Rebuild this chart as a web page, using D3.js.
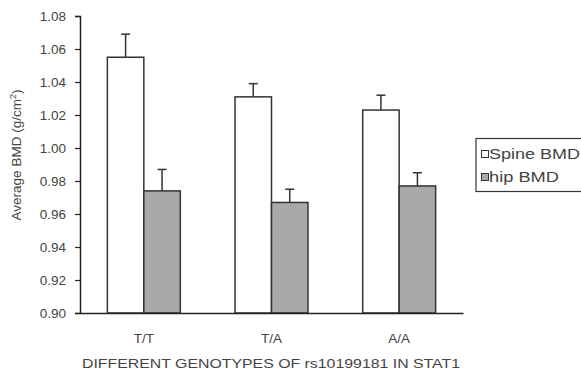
<!DOCTYPE html>
<html><head><meta charset="utf-8">
<script src="https://cdn.jsdelivr.net/npm/d3@7"></script>
<style>body{margin:0;background:#fff}svg{display:block}text{font-family:"Liberation Sans",Arial,sans-serif;fill:#333}</style>
</head><body><svg id="c" width="581" height="372"></svg>
<script>
const categories = ["T/T", "T/A", "A/A"];
const seriesNames = ["Spine BMD", "hip BMD"];
const spineBMD = [1.055, 1.031, 1.023];
const spineErr = [0.014, 0.008, 0.009];
const hipBMD = [0.974, 0.967, 0.977];
const hipErr = [0.013, 0.008, 0.008];
const yTicks = [0.90, 0.92, 0.94, 0.96, 0.98, 1.00, 1.02, 1.04, 1.06, 1.08];

const svg = d3.select("#c");
const L = 80, R = 463, T = 16, B = 313;
const FF = "Liberation Sans, Arial, sans-serif";
const x = d3.scaleBand().domain(categories).range([L, R]).paddingInner(0).paddingOuter(0);
const x1 = d3.scaleBand().domain(seriesNames).range([0, x.bandwidth()]).paddingInner(0).paddingOuter(0.75);
const y = d3.scaleLinear().domain([0.90, 1.08]).range([B, T]);
const fills = {"Spine BMD": "#ffffff", "hip BMD": "#a9a9a9"};

const data = categories.map((c, i) => ({c, vals: [
  {s: "Spine BMD", v: spineBMD[i], e: spineErr[i]},
  {s: "hip BMD", v: hipBMD[i], e: hipErr[i]}]}));

// y axis
const ya = d3.axisLeft(y).tickValues(yTicks).tickFormat(d3.format(".2f")).tickSize(5).tickPadding(9);
const gy = svg.append("g").attr("transform", `translate(${L},0)`).call(ya);
gy.select(".domain").attr("stroke", "#222").attr("stroke-width", 1.5);
gy.selectAll(".tick line").attr("stroke", "#222").attr("stroke-width", 1.2);
gy.selectAll(".tick text").attr("font-size", 13.5).style("fill", "#444").attr("font-family", FF);

const g = svg.append("g");
data.forEach(d => {
  d.vals.forEach(p => {
    const bx = x(d.c) + x1(p.s), bw = x1.bandwidth();
    const cx = bx + bw / 2;
    g.append("line").attr("x1", cx).attr("x2", cx).attr("y1", y(p.v)).attr("y2", y(p.v + p.e)).attr("stroke", "#333").attr("stroke-width", 1.5);
    g.append("line").attr("x1", cx - 4.5).attr("x2", cx + 4.5).attr("y1", y(p.v + p.e)).attr("y2", y(p.v + p.e)).attr("stroke", "#333").attr("stroke-width", 1.5);
    g.append("rect").attr("x", bx).attr("y", y(p.v)).attr("width", bw).attr("height", y(0.90) - y(p.v))
      .attr("fill", fills[p.s]).attr("stroke", "#333").attr("stroke-width", 1.5);
  });
});

// x axis
const xa = d3.axisBottom(x).tickSize(0).tickPadding(20);
const gx = svg.append("g").attr("transform", `translate(0,${B})`).call(xa);
gx.select(".domain").attr("stroke", "#222").attr("stroke-width", 1.5);
gx.selectAll(".tick text").attr("font-size", 13.5).style("fill", "#444").attr("font-family", FF);

svg.append("text").attr("x", 82).attr("y", 368).attr("font-size", 13.5).style("fill", "#444")
  .attr("textLength", 378).attr("lengthAdjust", "spacingAndGlyphs")
  .text("DIFFERENT GENOTYPES OF rs10199181 IN STAT1");

const yl = svg.append("text").attr("transform", "translate(21,155) rotate(-90)").attr("text-anchor", "middle").attr("font-size", 13.5).style("fill", "#444");
yl.append("tspan").text("Average BMD (g/cm");
yl.append("tspan").attr("dy", -5).attr("font-size", 9).text("2");
yl.append("tspan").attr("dy", 5).text(")");

// legend
const lg = svg.append("g");
lg.append("rect").attr("x", 476).attr("y", 138.5).attr("width", 110).attr("height", 53).attr("fill", "#fff").attr("stroke", "#333").attr("stroke-width", 1.2);
const legW = [91, 70];
seriesNames.forEach((s, i) => {
  const yy = 159 + i * 23;
  lg.append("rect").attr("x", 481.5).attr("y", yy - 8.5).attr("width", 7).attr("height", 7).attr("fill", fills[s]).attr("stroke", "#333").attr("stroke-width", 1);
  lg.append("text").attr("x", 489).attr("y", yy).attr("font-size", 14).style("fill", "#444")
    .attr("textLength", legW[i]).attr("lengthAdjust", "spacingAndGlyphs").text(s);
});
</script></body></html>
